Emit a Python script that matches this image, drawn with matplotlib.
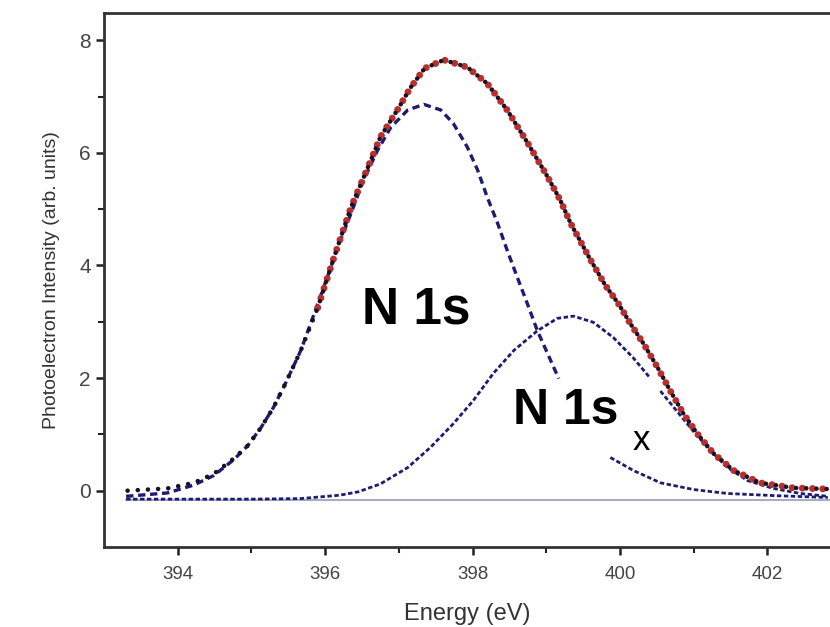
import numpy as np
import matplotlib.pyplot as plt

plt.rcParams['font.family'] = ['Liberation Sans', 'DejaVu Sans']

# measured spectrum (envelope)
energy = [393.32, 393.86, 394.22, 394.49, 394.76, 394.95, 395.13, 395.3, 395.46, 395.67,
          395.9, 396.12, 396.35, 396.58, 396.75, 396.98, 397.16, 397.35, 397.61, 397.93,
          398.2, 398.47, 398.75, 399.02, 399.19, 399.33, 399.6, 399.8, 399.98, 400.14,
          400.32, 400.51, 400.68, 400.86, 401.05, 401.27, 401.54, 401.9, 402.35, 402.81]
intensity = [0.0, 0.04, 0.14, 0.3, 0.57, 0.8, 1.12, 1.48, 1.9, 2.49,
             3.25, 4.14, 5.03, 5.74, 6.28, 6.76, 7.16, 7.5, 7.65, 7.52,
             7.23, 6.76, 6.17, 5.57, 5.16, 4.75, 4.1, 3.65, 3.32, 2.97,
             2.61, 2.19, 1.78, 1.37, 1.01, 0.66, 0.36, 0.14, 0.05, 0.03]

# N 1s component (two pieces, gap for the label)
n1s_x = [393.3, 393.86, 394.22, 394.49, 394.76, 394.95, 395.13, 395.3, 395.46, 395.67,
         395.84, 396.03, 396.17, 396.35, 396.52, 396.71, 396.89, 397.12, 397.34, 397.57,
         397.74, 397.93, 398.07, 398.2, 398.34, 398.47, 398.61, 398.75, 398.88, 399.02, 399.17]
n1s_y = [-0.1, -0.04, 0.1, 0.27, 0.55, 0.8, 1.12, 1.48, 1.9, 2.49,
         3.1, 3.79, 4.32, 4.92, 5.51, 6.04, 6.45, 6.76, 6.86, 6.76,
         6.52, 6.1, 5.69, 5.21, 4.75, 4.27, 3.78, 3.3, 2.84, 2.43, 1.99]
n1s_tail_x = [399.87, 400.18, 400.55, 401.0, 401.46, 402.14, 402.82]
n1s_tail_y = [0.59, 0.36, 0.14, 0.02, -0.05, -0.09, -0.12]

# N 1s_x component
n1sx_x = [393.3, 395.0, 395.67, 396.2, 396.45, 396.75, 397.12, 397.43, 397.74, 398.01,
          398.28, 398.56, 398.88, 399.15, 399.37, 399.64, 399.91, 400.18, 400.41,
          400.55, 400.78, 401.0, 401.23, 401.46, 401.73, 402.08, 402.45, 402.82]
n1sx_y = [-0.15, -0.15, -0.14, -0.08, -0.02, 0.12, 0.41, 0.77, 1.19, 1.6,
          2.08, 2.49, 2.84, 3.06, 3.1, 2.99, 2.72, 2.36, 2.0,
          1.77, 1.4, 1.05, 0.71, 0.41, 0.18, 0.04, -0.05, -0.1]

baseline = -0.16
navy = '#1c1c72'

fig = plt.figure(figsize=(8.3, 6.27), dpi=100)
ax = fig.add_axes([0.1253, 0.1276, 0.8747, 0.8514])

ax.plot([393.3, 402.85], [baseline, baseline], color='#9ea3bd', lw=1.3, zorder=1)

# N 1s_x drawn with a small break near 400.5 eV, as in the original
nx = np.array(n1sx_x)
ny = np.array(n1sx_y)
left = nx <= 400.45
ax.plot(nx[left], ny[left], color=navy, lw=2.0, linestyle=(0, (1.6, 0.9)), zorder=2)
ax.plot(nx[~left], ny[~left], color=navy, lw=2.0, linestyle=(0, (1.6, 0.9)), zorder=2)

ax.plot(n1s_x, n1s_y, color=navy, lw=2.4, linestyle=(0, (2.2, 1.4)), zorder=2)
ax.plot(n1s_tail_x, n1s_tail_y, color=navy, lw=2.0, linestyle=(0, (1.6, 0.9)), zorder=2)

e = np.array(energy)
s = np.array(intensity)
fit = e >= 395.8
ax.plot(e[fit], s[fit], color='#b8302c', lw=5.0, linestyle=(0, (0.01, 1.46)),
        dash_capstyle='round', zorder=3)
ax.plot(e, s, color='#1a1028', lw=3.3, linestyle=(0, (0.01, 2.21)),
        dash_capstyle='round', zorder=4)

ax.text(397.23, 3.2, 'N 1s', fontsize=37, fontweight='bold', ha='center', va='center')
ax.text(399.27, 1.42, 'N 1s', fontsize=36, fontweight='bold', ha='center', va='center')
ax.text(400.29, 0.9, 'x', fontsize=25, ha='center', va='center')

ax.set_xlim(393.0, 402.85)
ax.set_ylim(-1.0, 8.48)
ax.set_xticks([394, 396, 398, 400, 402])
ax.set_xticks([395, 397, 399, 401], minor=True)
ax.set_yticks([0, 2, 4, 6, 8])
ax.set_yticks([1, 3, 5, 7], minor=True)
ax.tick_params(axis='x', which='major', labelsize=13.5, length=6, width=1.8, pad=8,
               colors='#222222', labelcolor='#444444')
ax.tick_params(axis='y', which='major', labelsize=15, length=6, width=1.8,
               colors='#222222', labelcolor='#444444')
ax.tick_params(which='minor', length=4, width=1.5, colors='#222222')
ax.spines['right'].set_visible(False)
for sp in ['left', 'bottom', 'top']:
    ax.spines[sp].set_linewidth(2)
    ax.spines[sp].set_color('#333333')

ax.set_xlabel('Energy (eV)', fontsize=17, color='#333333', labelpad=14)
ax.set_ylabel('Photoelectron Intensity (arb. units)', fontsize=14, color='#333333', labelpad=14)

fig.savefig('out.png', dpi=100)
